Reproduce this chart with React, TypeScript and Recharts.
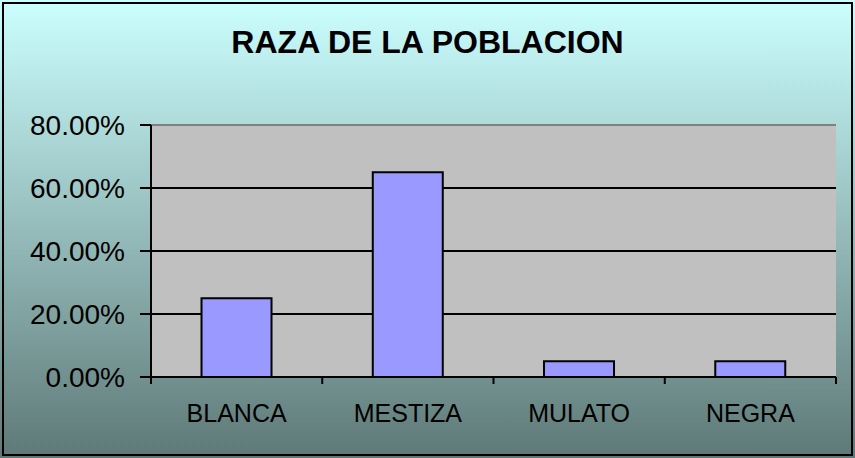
import React from "react";
import {
  BarChart,
  Bar,
  XAxis,
  YAxis,
  CartesianGrid,
  ReferenceLine,
} from "recharts";

const categories = ["BLANCA", "MESTIZA", "MULATO", "NEGRA"];
const shares = [0.25, 0.65, 0.05, 0.05];
const yTicks = [0, 0.2, 0.4, 0.6, 0.8];

const W = 855;
const H = 458;
const PLOT_LEFT = 151;
const PLOT_RIGHT = 836;
const PLOT_TOP = 125;
const PLOT_BOTTOM = 377;
const BAND = (PLOT_RIGHT - PLOT_LEFT) / categories.length;
const FONT = "'Liberation Sans', Arial, Helvetica, sans-serif";

const data = categories.map((name, i) => ({ name, value: shares[i] }));

const pct = (v: number) => `${(v * 100).toFixed(2)}%`;

const CategoryTick = (props: any) => {
  const { x, payload, index } = props;
  const left = x - BAND / 2;
  return (
    <g>
      <line x1={left} x2={left} y1={PLOT_BOTTOM} y2={PLOT_BOTTOM + 7} stroke="#000" strokeWidth={2} />
      {index === categories.length - 1 && (
        <line
          x1={x + BAND / 2}
          x2={x + BAND / 2}
          y1={PLOT_BOTTOM}
          y2={PLOT_BOTTOM + 7}
          stroke="#000"
          strokeWidth={2}
        />
      )}
      <text x={x} y={PLOT_BOTTOM + 45} textAnchor="middle" fontSize={25} fontFamily={FONT} fill="#000">
        {payload.value}
      </text>
    </g>
  );
};

export default function App() {
  return (
    <div
      style={{
        position: "relative",
        width: W,
        height: H,
        background: "linear-gradient(to bottom, #CCFFFF 0%, #5E7977 100%)",
        fontFamily: FONT,
      }}
    >
      <style>{`body{margin:0}`}</style>
      <div
        style={{
          position: "absolute",
          top: 20,
          left: 0,
          width: W,
          textAlign: "center",
          fontSize: 32,
          fontWeight: "bold",
          lineHeight: "44px",
          color: "#000",
        }}
      >
        RAZA DE LA POBLACION
      </div>
      <div style={{ position: "absolute", left: 0, top: 0 }}>
        <BarChart
          width={W}
          height={H}
          data={data}
          margin={{ top: PLOT_TOP, right: W - PLOT_RIGHT, left: 0, bottom: 0 }}
          barCategoryGap="29.5%"
        >
          <CartesianGrid vertical={false} stroke="#000" strokeWidth={2} fill="#C0C0C0" fillOpacity={1} />
          <XAxis
            dataKey="name"
            height={H - PLOT_BOTTOM}
            axisLine={{ stroke: "#000", strokeWidth: 2 }}
            tickLine={false}
            tick={<CategoryTick />}
            interval={0}
          />
          <YAxis
            width={PLOT_LEFT}
            domain={[0, 0.8]}
            ticks={yTicks}
            tickFormatter={pct}
            tickSize={11}
            tickMargin={15}
            axisLine={{ stroke: "#000", strokeWidth: 2 }}
            tickLine={{ stroke: "#000", strokeWidth: 2 }}
            tick={{ fill: "#000", fontSize: 28, fontFamily: FONT }}
            interval={0}
          />
          <YAxis
            yAxisId="right"
            orientation="right"
            width={0}
            tick={false}
            tickLine={false}
            axisLine={{ stroke: "#808080", strokeWidth: 2 }}
          />
          <ReferenceLine y={0.8} stroke="#808080" strokeWidth={2} />
          <Bar
            dataKey="value"
            fill="#9999FF"
            stroke="#000"
            strokeWidth={2}
            isAnimationActive={false}
          />
        </BarChart>
      </div>
      <div
        style={{
          position: "absolute",
          left: 2,
          top: 2,
          width: W - 4,
          height: H - 4,
          border: "2px solid #000",
          boxSizing: "border-box",
          pointerEvents: "none",
        }}
      />
    </div>
  );
}
